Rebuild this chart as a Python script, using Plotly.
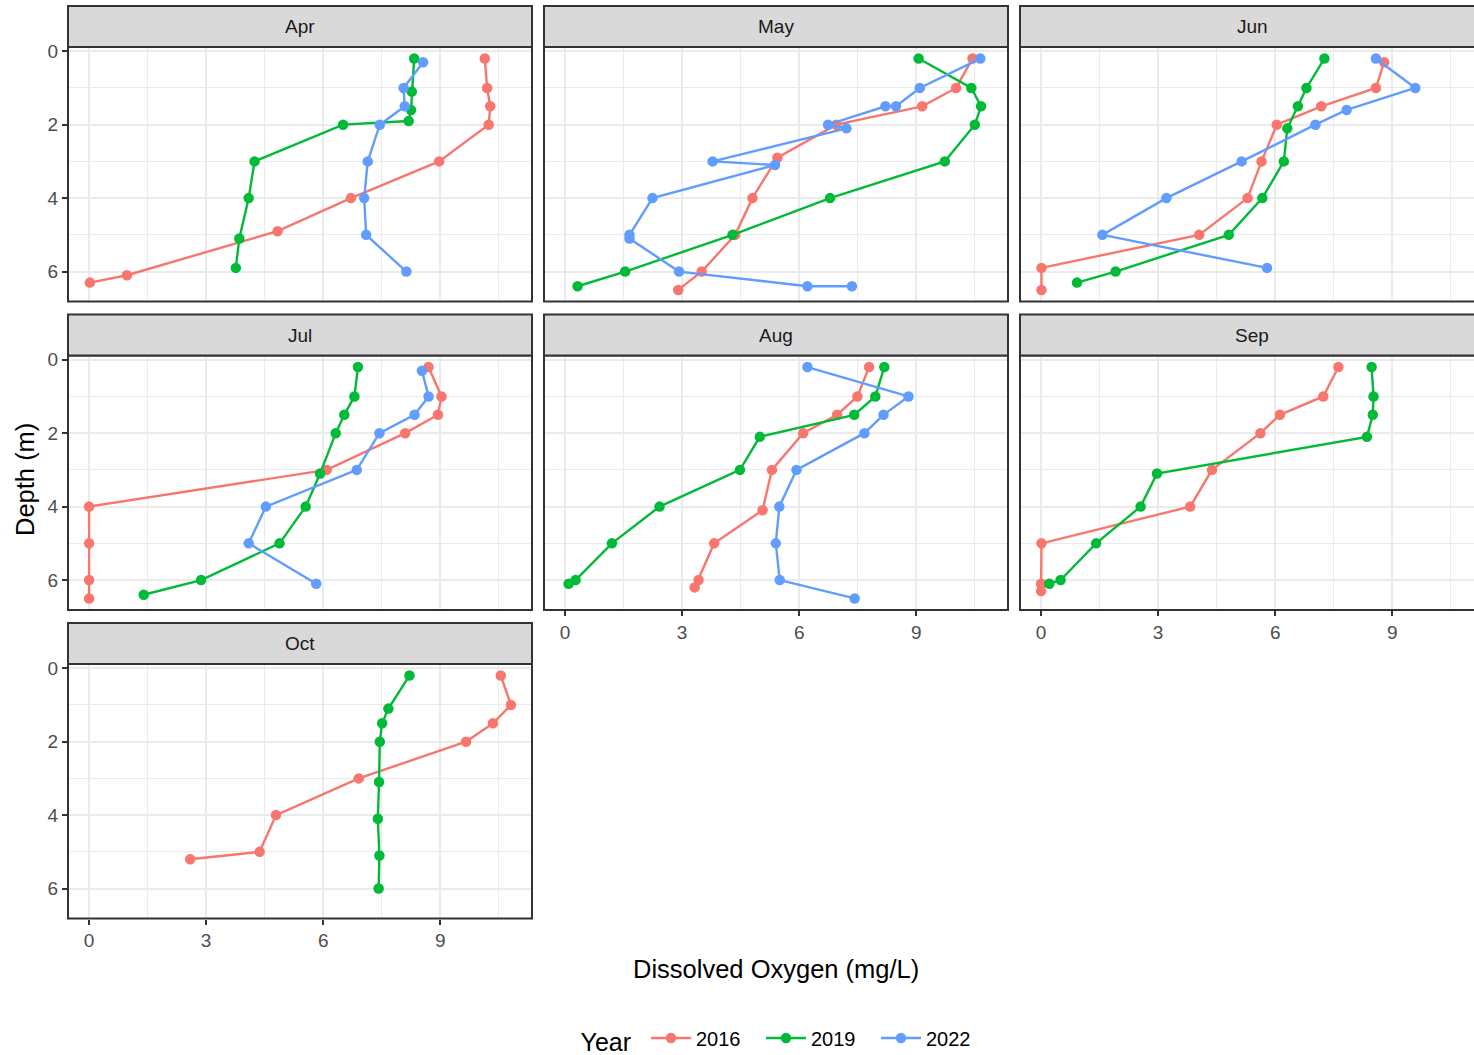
import plotly.graph_objects as go

# ---------------- data ----------------
months = ["Apr", "May", "Jun", "Jul", "Aug", "Sep", "Oct"]
years = ["2016", "2019", "2022"]
year_colors = {"2016": "#F8766D", "2019": "#00BA38", "2022": "#619CFF"}

apr_2016_depth = [0.2, 1.0, 1.5, 2.0, 3.0, 4.0, 4.9, 6.1, 6.3]
apr_2016_do = [10.14, 10.20, 10.28, 10.24, 8.97, 6.71, 4.83, 0.97, 0.02]
apr_2019_depth = [0.2, 1.1, 1.6, 1.9, 2.0, 3.0, 4.0, 5.1, 5.9]
apr_2019_do = [8.33, 8.27, 8.25, 8.19, 6.51, 4.24, 4.09, 3.85, 3.76]
apr_2022_depth = [0.3, 1.0, 1.5, 2.0, 3.0, 4.0, 5.0, 6.0]
apr_2022_do = [8.56, 8.06, 8.09, 7.45, 7.14, 7.05, 7.10, 8.13]

may_2016_depth = [0.2, 1.0, 1.5, 2.0, 2.9, 4.0, 5.0, 6.0, 6.5]
may_2016_do = [10.44, 10.02, 9.15, 6.95, 5.44, 4.80, 4.36, 3.50, 2.90]
may_2019_depth = [0.2, 1.0, 1.5, 2.0, 3.0, 4.0, 5.0, 6.0, 6.4]
may_2019_do = [9.06, 10.41, 10.66, 10.50, 9.73, 6.79, 4.29, 1.54, 0.32]
may_2022_depth = [0.2, 1.0, 1.5, 1.5, 2.0, 2.1, 3.0, 3.1, 4.0, 5.0, 5.1, 6.0, 6.4, 6.4]
may_2022_do = [10.64, 9.09, 8.48, 8.21, 6.74, 7.21, 3.78, 5.38, 2.24, 1.65, 1.65, 2.92, 6.21, 7.35]

jun_2016_depth = [0.3, 1.0, 1.5, 2.0, 3.0, 4.0, 5.0, 5.9, 6.5]
jun_2016_do = [8.79, 8.58, 7.18, 6.04, 5.65, 5.29, 4.05, 0.01, 0.01]
jun_2019_depth = [0.2, 1.0, 1.5, 2.1, 3.0, 4.0, 5.0, 6.0, 6.3]
jun_2019_do = [7.26, 6.80, 6.58, 6.31, 6.22, 5.67, 4.81, 1.91, 0.92]
jun_2022_depth = [0.2, 1.0, 1.6, 2.0, 3.0, 4.0, 5.0, 5.9]
jun_2022_do = [8.58, 9.59, 7.83, 7.03, 5.14, 3.21, 1.57, 5.79]

jul_2016_depth = [0.2, 1.0, 1.5, 2.0, 3.0, 4.0, 5.0, 6.0, 6.5]
jul_2016_do = [8.70, 9.03, 8.94, 8.10, 6.09, 0.0, 0.0, 0.0, 0.0]
jul_2019_depth = [0.2, 1.0, 1.5, 2.0, 3.1, 4.0, 5.0, 6.0, 6.4]
jul_2019_do = [6.89, 6.80, 6.54, 6.32, 5.92, 5.55, 4.88, 2.87, 1.40]
jul_2022_depth = [0.3, 1.0, 1.5, 2.0, 3.0, 4.0, 5.0, 6.1]
jul_2022_do = [8.53, 8.70, 8.34, 7.44, 6.86, 4.53, 4.09, 5.82]

aug_2016_depth = [0.2, 1.0, 1.5, 2.0, 3.0, 4.1, 5.0, 6.0, 6.2]
aug_2016_do = [7.79, 7.49, 6.97, 6.10, 5.30, 5.06, 3.82, 3.42, 3.32]
aug_2019_depth = [0.2, 1.0, 1.5, 2.1, 3.0, 4.0, 5.0, 6.0, 6.1]
aug_2019_do = [8.18, 7.95, 7.41, 4.99, 4.48, 2.42, 1.20, 0.27, 0.09]
aug_2022_depth = [0.2, 1.0, 1.5, 2.0, 3.0, 4.0, 5.0, 6.0, 6.5]
aug_2022_do = [6.21, 8.80, 8.16, 7.67, 5.93, 5.49, 5.40, 5.50, 7.42]

sep_2016_depth = [0.2, 1.0, 1.5, 2.0, 3.0, 4.0, 5.0, 6.1, 6.3]
sep_2016_do = [7.62, 7.23, 6.12, 5.62, 4.38, 3.82, 0.01, 0.0, 0.0]
sep_2019_depth = [0.2, 1.0, 1.5, 2.1, 3.1, 4.0, 5.0, 6.0, 6.1]
sep_2019_do = [8.47, 8.52, 8.50, 8.35, 2.97, 2.55, 1.41, 0.50, 0.21]

oct_2016_depth = [0.2, 1.0, 1.5, 2.0, 3.0, 4.0, 5.0, 5.2]
oct_2016_do = [10.55, 10.81, 10.35, 9.66, 6.91, 4.79, 4.37, 2.59]
oct_2019_depth = [0.2, 1.1, 1.5, 2.0, 3.1, 4.1, 5.1, 6.0]
oct_2019_do = [8.21, 7.67, 7.51, 7.45, 7.43, 7.40, 7.44, 7.42]

x_ticks = [0, 3, 6, 9]
y_ticks = [0, 2, 4, 6]

profiles = {
    ("Apr", "2016"): (apr_2016_depth, apr_2016_do),
    ("Apr", "2019"): (apr_2019_depth, apr_2019_do),
    ("Apr", "2022"): (apr_2022_depth, apr_2022_do),
    ("May", "2016"): (may_2016_depth, may_2016_do),
    ("May", "2019"): (may_2019_depth, may_2019_do),
    ("May", "2022"): (may_2022_depth, may_2022_do),
    ("Jun", "2016"): (jun_2016_depth, jun_2016_do),
    ("Jun", "2019"): (jun_2019_depth, jun_2019_do),
    ("Jun", "2022"): (jun_2022_depth, jun_2022_do),
    ("Jul", "2016"): (jul_2016_depth, jul_2016_do),
    ("Jul", "2019"): (jul_2019_depth, jul_2019_do),
    ("Jul", "2022"): (jul_2022_depth, jul_2022_do),
    ("Aug", "2016"): (aug_2016_depth, aug_2016_do),
    ("Aug", "2019"): (aug_2019_depth, aug_2019_do),
    ("Aug", "2022"): (aug_2022_depth, aug_2022_do),
    ("Sep", "2016"): (sep_2016_depth, sep_2016_do),
    ("Sep", "2019"): (sep_2019_depth, sep_2019_do),
    ("Oct", "2016"): (oct_2016_depth, oct_2016_do),
    ("Oct", "2019"): (oct_2019_depth, oct_2019_do),
}

# ---------------- layout geometry ----------------
W, H = 1474, 1055
ML, MR, MT, MB = 68, 0, 6, 136
PW = W - ML - MR
PH = H - MT - MB
BASE = MT + PH

FONT = "Liberation Sans, Arial, Helvetica, sans-serif"


def xp(px):
    return (px - ML) / PW


def yp(py):
    return (BASE - py) / PH


PANEL_W = 464
COL_STEP = 476
ROW_STEP = 308.5
STRIP_H = 41
PANEL_H = 254.5

all_x = [v for d, x in profiles.values() for v in x]
all_y = [v for d, x in profiles.values() for v in d]
xmin, xmax = min(all_x), max(all_x)
ymin, ymax = min(all_y), max(all_y)
xpad = (xmax - xmin) * 0.05
ypad = (ymax - ymin) * 0.05
x_range = [xmin - xpad, xmax + xpad]
y_range = [ymax + ypad, ymin - ypad]

fig = go.Figure()
shapes = []
annotations = []
layout_axes = {}
shown = set()

bottom_panels = {"Oct", "Aug", "Sep"}

for i, m in enumerate(months):
    r, c = divmod(i, 3)
    left = ML + COL_STEP * c
    right = left + PANEL_W
    strip_top = MT + ROW_STEP * r
    ptop = strip_top + STRIP_H
    pbot = ptop + PANEL_H

    vis_right = min(right, W)
    frac = (vis_right - left) / PANEL_W
    xr = [x_range[0], x_range[0] + frac * (x_range[1] - x_range[0])]

    xname = "x" if i == 0 else f"x{i+1}"
    yname = "y" if i == 0 else f"y{i+1}"
    xkey = "xaxis" if i == 0 else f"xaxis{i+1}"
    ykey = "yaxis" if i == 0 else f"yaxis{i+1}"

    show_x = m in bottom_panels
    show_y = c == 0

    layout_axes[xkey] = dict(
        domain=[xp(left), min(1.0, xp(right))],
        anchor=yname,
        range=xr,
        tickvals=x_ticks,
        showgrid=True, gridcolor="#EBEBEB", gridwidth=2.2,
        minor=dict(dtick=1.5, tick0=0, showgrid=True, gridcolor="#EBEBEB", gridwidth=1.1, ticks=""),
        zeroline=False, showline=False,
        ticks="outside" if show_x else "", ticklen=5, tickwidth=2, tickcolor="#333333",
        showticklabels=show_x,
        tickfont=dict(family=FONT, size=19, color="#4D4D4D"),
        fixedrange=True,
    )
    layout_axes[ykey] = dict(
        domain=[max(0.0, yp(pbot)), yp(ptop)],
        anchor=xname,
        range=y_range,
        tickvals=y_ticks,
        showgrid=True, gridcolor="#EBEBEB", gridwidth=2.2,
        minor=dict(dtick=1, tick0=0, showgrid=True, gridcolor="#EBEBEB", gridwidth=1.1, ticks=""),
        zeroline=False, showline=False,
        ticks="outside" if show_y else "", ticklen=5, tickwidth=2, tickcolor="#333333",
        showticklabels=show_y,
        tickfont=dict(family=FONT, size=19, color="#4D4D4D"),
        fixedrange=True,
    )

    # panel border
    x1_border = xp(right) if right <= W else xp(right + 10)
    shapes.append(dict(type="rect", xref="paper", yref="paper",
                       x0=xp(left), x1=x1_border, y0=yp(pbot), y1=yp(ptop),
                       line=dict(color="#333333", width=2), fillcolor="rgba(0,0,0,0)",
                       layer="above"))
    # strip
    shapes.append(dict(type="rect", xref="paper", yref="paper",
                       x0=xp(left), x1=x1_border, y0=yp(ptop), y1=yp(strip_top),
                       line=dict(color="#333333", width=2), fillcolor="#D9D9D9",
                       layer="above"))
    annotations.append(dict(text=m, xref="paper", yref="paper",
                            x=xp((left + right) / 2), y=yp(strip_top + STRIP_H / 2),
                            showarrow=False, xanchor="center", yanchor="middle",
                            font=dict(family=FONT, size=19, color="#1A1A1A")))

    for yr in years:
        key = (m, yr)
        if key not in profiles:
            continue
        depth, do = profiles[key]
        fig.add_trace(go.Scatter(
            x=do, y=depth, mode="lines+markers",
            xaxis=xname, yaxis=yname,
            name=yr, legendgroup=yr, showlegend=yr not in shown,
            line=dict(color=year_colors[yr], width=2.4),
            marker=dict(color=year_colors[yr], size=10.5),
            hoverinfo="skip",
        ))
        shown.add(yr)

# axis titles
annotations.append(dict(text="Dissolved Oxygen (mg/L)", xref="paper", yref="paper",
                        x=xp(776), y=yp(969), showarrow=False,
                        xanchor="center", yanchor="middle",
                        font=dict(family=FONT, size=25.5, color="#000000")))
annotations.append(dict(text="Depth (m)", xref="paper", yref="paper",
                        x=xp(25), y=yp(480), showarrow=False, textangle=-90,
                        xanchor="center", yanchor="middle",
                        font=dict(family=FONT, size=25.5, color="#000000")))

fig.update_layout(
    width=W, height=H,
    margin=dict(l=ML, r=MR, t=MT, b=MB, autoexpand=False),
    paper_bgcolor="white", plot_bgcolor="white",
    shapes=shapes, annotations=annotations,
    showlegend=True,
    legend=dict(orientation="h", x=xp(785), xanchor="center",
                y=yp(1040), yanchor="middle",
                title=dict(text="Year ", side="left",
                           font=dict(family=FONT, size=25, color="#000000")),
                font=dict(family=FONT, size=20, color="#000000"),
                itemwidth=40, entrywidth=60, entrywidthmode="pixels",
                bgcolor="rgba(0,0,0,0)"),
    **layout_axes,
)

fig.write_html("out.html", config={"displayModeBar": False},
               post_script="document.body.style.margin='0';")
